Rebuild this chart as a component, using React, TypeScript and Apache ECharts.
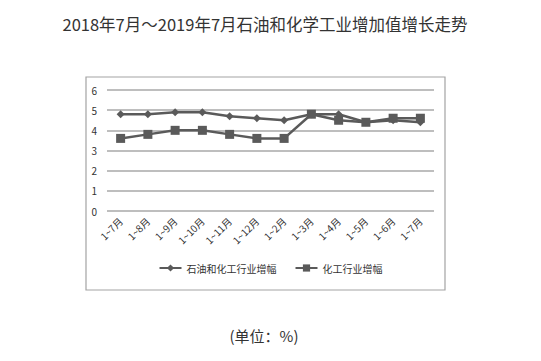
import React, { useEffect, useRef } from "react";
import * as echarts from "echarts";

const categories = ["1~7月", "1~8月", "1~9月", "1~10月", "1~11月", "1~12月", "1~2月", "1~3月", "1~4月", "1~5月", "1~6月", "1~7月"];
const petroChemValues = [4.8, 4.8, 4.9, 4.9, 4.7, 4.6, 4.5, 4.8, 4.8, 4.4, 4.5, 4.4];
const chemValues = [3.6, 3.8, 4.0, 4.0, 3.8, 3.6, 3.6, 4.8, 4.5, 4.4, 4.6, 4.6];
const yTicks = { min: 0, max: 6, interval: 1 };
const titleText = "2018年7月～2019年7月石油和化学工业增加值增长走势";
const unitText = "(单位：%)";
const seriesNames = ["石油和化工行业增幅", "化工行业增幅"];

const FONT = "'Noto Sans CJK SC', 'Noto Sans', sans-serif";
const LINE = "#5a5a5a";

export default function App() {
  const ref = useRef<HTMLDivElement>(null);
  useEffect(() => {
    document.body.style.margin = "0";
    if (!ref.current) return;
    const chart = echarts.init(ref.current, undefined, { renderer: "svg" });
    chart.setOption({
      animation: false,
      backgroundColor: "#ffffff",
      textStyle: { fontFamily: FONT },
      graphic: [
        {
          type: "rect",
          shape: { x: 86, y: 77, width: 359, height: 213 },
          style: { fill: "none", stroke: "#a3a3a3", lineWidth: 1.2 },
          z: -1,
        },
        {
          type: "text",
          x: 265,
          y: 24,
          style: {
            text: titleText,
            fontSize: 16.5,
            fontFamily: FONT,
            fill: "#333333",
            align: "center",
            verticalAlign: "middle",
          },
        },
        {
          type: "text",
          x: 264,
          y: 335,
          style: {
            text: unitText,
            fontSize: 15,
            fontFamily: FONT,
            fill: "#333333",
            align: "center",
            verticalAlign: "middle",
          },
        },
      ],
      grid: { left: 107, right: 107, top: 90, bottom: 150 },
      legend: {
        data: seriesNames,
        top: 258,
        left: "center",
        itemWidth: 22,
        itemHeight: 9,
        itemGap: 18,
        textStyle: { fontSize: 10, color: "#333333", fontFamily: FONT },
      },
      xAxis: {
        type: "category",
        data: categories,
        boundaryGap: true,
        axisLine: { show: false },
        axisTick: { show: false },
        axisLabel: { rotate: 45, fontSize: 10, color: "#333333", margin: 8, interval: 0, fontFamily: FONT },
      },
      yAxis: {
        type: "value",
        min: yTicks.min,
        max: yTicks.max,
        interval: yTicks.interval,
        axisLine: { show: false },
        axisTick: { show: false },
        axisLabel: { fontSize: 10, color: "#333333", margin: 10 },
        splitLine: { lineStyle: { color: "#a8a8a8", width: 1.5 } },
      },
      series: [
        {
          name: seriesNames[0],
          type: "line",
          data: petroChemValues,
          symbol: "diamond",
          symbolSize: 8,
          lineStyle: { color: LINE, width: 2.5 },
          itemStyle: { color: LINE },
        },
        {
          name: seriesNames[1],
          type: "line",
          data: chemValues,
          symbol: "rect",
          symbolSize: 9,
          lineStyle: { color: LINE, width: 2.5 },
          itemStyle: { color: LINE },
        },
      ],
    });
    return () => chart.dispose();
  }, []);
  return <div ref={ref} style={{ width: 541, height: 361 }} />;
}
